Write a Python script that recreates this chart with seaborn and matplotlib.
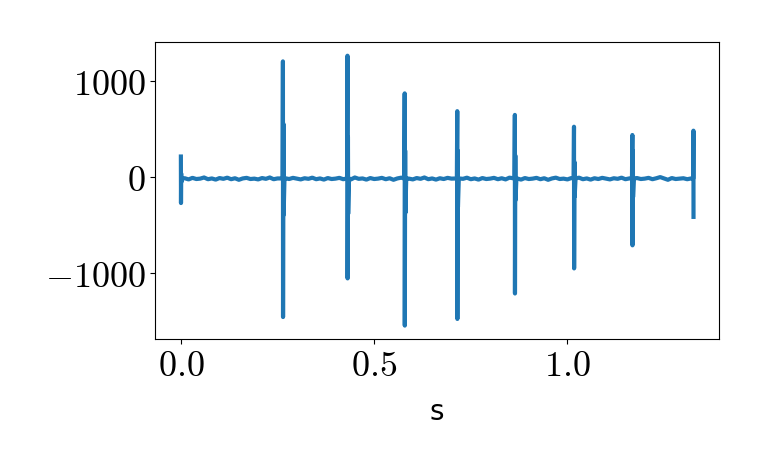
import matplotlib
matplotlib.use("Agg")
import matplotlib.pyplot as plt
import seaborn as sns
import pandas as pd
from matplotlib.ticker import FuncFormatter

# ---- data ----
spike_t = [0.0, 0.264, 0.431, 0.579, 0.715, 0.864, 1.017, 1.168, 1.326]
spike_peak = [216, 1206, 1265, 873, 688, 649, 526, 440, 485]
spike_trough = [-268, -1454, -1052, -1543, -1474, -1209, -948, -708, -412]
after_peak = [40, 557, 420, 278, 278, 227, 160, 278, 0]
after_trough = [-50, -392, -380, -371, -309, -237, -200, -206, 0]

# baseline samples every 0.01 s (time index 1..132)
baseline_v = [-10, -22, -6, -18, -14, -2, -20, -12, -24, -8,
              -16, -4, -20, -10, -26, -12, -6, -18, -14, -22,
              -8, -16, -2, -20, -12, -28, -10, -18, -6, -14,
              -22, -10, -16, -4, -20, -12, -24, -8, -18, -14,
              -6, -20, -10, -22, -2, -16, -12, -24, -8, -18,
              -14, -6, -20, -10, -26, -12, -4, -18, -14, -22,
              -8, -16, -2, -20, -12, -24, -10, -18, -6, -14,
              -22, -10, -16, -4, -20, -12, -24, -8, -18, -14,
              -6, -20, -10, -22, -4, -16, -12, -24, -8, -18,
              -14, -6, -20, -10, -26, -12, -4, -18, -14, -22,
              -8, -16, -4, -20, -12, -24, -10, -18, -6, -14,
              -22, -10, -16, -4, -20, -12, -24, -8, -18, -14,
              -6, -20, -10, 2, -12, -26, -8, -18, -14, -10,
              -20, -12]

# ---- build the polyline from the read values ----
pts = []
for i, t in enumerate(spike_t):
    if i == len(spike_t) - 1:
        pts += [(t - 0.0005, -12), (t, spike_peak[i]), (t + 0.0002, spike_trough[i])]
    elif i == 0:
        pts += [(t, spike_peak[i]), (t + 0.0003, spike_trough[i]),
                (t + 0.0008, after_peak[i]), (t + 0.0012, after_trough[i]),
                (t + 0.003, -12)]
    else:
        pts += [(t - 0.001, -12), (t, spike_peak[i]), (t + 0.0003, spike_trough[i]),
                (t + 0.0012, after_peak[i]), (t + 0.0018, after_trough[i]),
                (t + 0.004, -12)]
for k, v in enumerate(baseline_v, start=1):
    tk = round(0.01 * k, 3)
    if all(abs(tk - s) > 0.006 for s in spike_t) and tk < spike_t[-1]:
        pts.append((tk, v))
pts.sort(key=lambda p: p[0])
df = pd.DataFrame(pts, columns=["t", "v"])

plt.rcParams["mathtext.fontset"] = "cm"

fig, ax = plt.subplots(figsize=(7.61, 4.69), dpi=100)
sns.lineplot(data=df, x="t", y="v", ax=ax, color="#1f77b4", linewidth=3,
             estimator=None, sort=False)

ax.set_xticks([0.0, 0.5, 1.0])
ax.set_yticks([-1000, 0, 1000])
ax.xaxis.set_major_formatter(FuncFormatter(lambda v, p: r"$%.1f$" % v))
ax.yaxis.set_major_formatter(FuncFormatter(lambda v, p: r"$%d$" % v))
ax.tick_params(labelsize=26)
ax.set_xlabel("s", fontsize=20, labelpad=11)
ax.set_ylabel("")

fig.subplots_adjust(left=0.204, right=0.945, top=0.91, bottom=0.277)
fig.savefig("out.png", dpi=100)
